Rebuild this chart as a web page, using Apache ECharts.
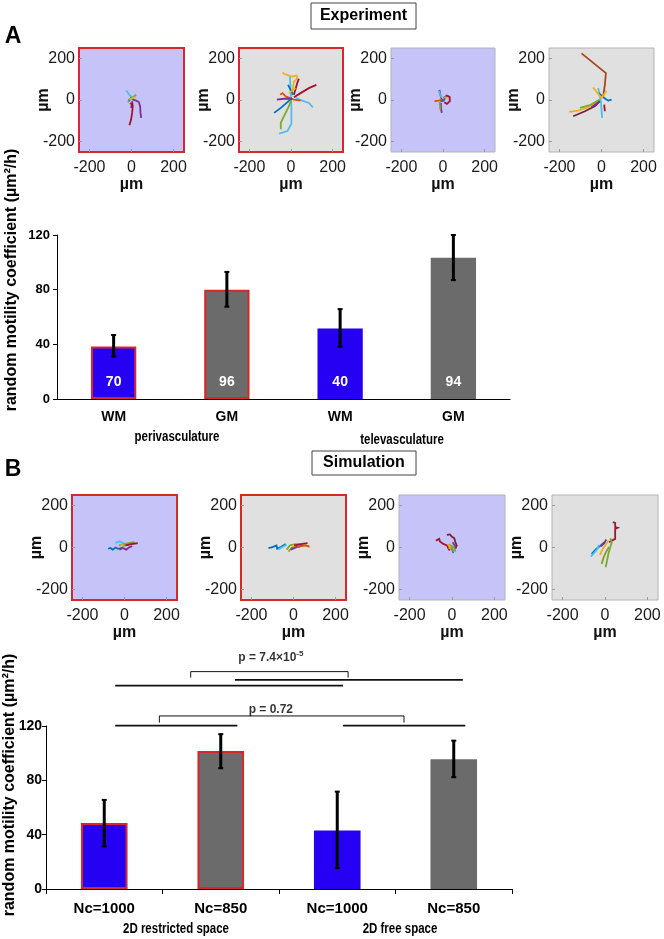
<!DOCTYPE html>
<html><head><meta charset="utf-8">
<script src="https://cdn.jsdelivr.net/npm/echarts@6/dist/echarts.min.js"></script>
<style>html,body{margin:0;padding:0;background:#fff}#c{width:664px;height:939px}</style>
</head><body><div id="c"></div><script>
// ---------------- DATA ----------------
// Panel A bar chart (Experiment)
const expCategories = ['WM', 'GM', 'WM', 'GM'];
const expGroups = ['perivasculature', 'televasculature'];
const expValues = [38.5, 80, 51.5, 103.4];
const expErrLow = [31, 67.5, 38.3, 87];
const expErrHigh = [46.8, 93, 65.8, 120];
const expCounts = ['70', '96', '40', '94'];

// Panel B bar chart (Simulation)
const simCategories = ['Nc=1000', 'Nc=850', 'Nc=1000', 'Nc=850'];
const simGroups = ['2D restricted space', '2D free space'];
const simValues = [48.5, 101.6, 43, 95.5];
const simErrLow = [31.3, 88.9, 15.4, 82.3];
const simErrHigh = [65.6, 114, 71.7, 109.2];

const barTicks = [0, 40, 80, 120];
const trackTicks = [-200, 0, 200];

// significance annotations (x in category units 0..4, y in value units)
const sigLines = [
  [[0.594, 149.6], [2.55, 149.6]],
  [[1.622, 153.8], [3.578, 153.8]],
  [[1.242, 155.5], [1.242, 159.9], [2.593, 159.9], [2.593, 155.5]],
  [[0.594, 120.2], [1.643, 120.2]],
  [[2.55, 120.2], [3.599, 120.2]],
  [[0.973, 122.4], [0.973, 127.3], [3.073, 127.3], [3.073, 122.4]]
];
const sigLabels = [[1.93, 169.8, 'p = 7.4×10{s|-5}'], [1.93, 131.8, 'p = 0.72']];

// trajectories (µm)
const expTracks1 = [
  [[-25,46],[-10,25],[3,10]],
  [[6,2],[22,-3],[35,-10],[41,-30],[43,-62],[46,-86]],
  [[3,-6],[6,-30],[3,-62],[-2,-94],[-10,-121]],
  [[-17,-10],[-2,6],[22,25]],
  [[-13,-3],[-2,10],[10,2]],
  [[-10,2],[6,10],[19,13]],
  [[-6,-14],[2,-22],[-2,-38]]
];
const expTracks2 = [
  [[-41,133],[-30,124],[6,113],[27,117],[30,102],[14,89],[6,41],[-2,10]],
  [[-5,113],[-2,41],[2,-38],[2,-114],[-17,-149],[-57,-162]],
  [[22,10],[54,-3],[86,-14],[105,-35]],
  [[14,13],[46,33],[86,57],[122,73]],
  [[14,25],[30,81],[38,102]],
  [[-81,-62],[-49,-38],[-17,-10],[6,10]],
  [[-14,73],[-2,49],[11,25]],
  [[-49,-141],[-49,-109],[-30,-70],[-10,-30],[2,2]],
  [[-52,25],[-41,33],[-25,17],[14,2],[46,-3]],
  [[-68,2],[-33,6],[6,5]],
  [[-10,33],[22,57]]
];
const expTracks3 = [
  [[-17,49],[-13,25],[-6,2],[0,-6]],
  [[3,10],[19,21],[32,14],[33,-6],[19,-19],[6,-11]],
  [[-10,-14],[-10,-38],[-6,-62]],
  [[-17,-10],[-14,-30],[-13,-46]],
  [[-21,44],[-13,25],[-5,10]],
  [[-13,-6],[3,-3],[14,17]],
  [[-41,-6],[-22,-3],[-6,0]],
  [[6,13],[22,10]]
];
const expTracks4 = [
  [[-95,224],[21,129],[16,73],[8,17]],
  [[-154,-57],[-111,-51],[-63,-35],[-16,-6]],
  [[-135,-78],[-79,-54],[-32,-30],[-8,-6]],
  [[-103,-38],[-56,-25],[-8,2]],
  [[-16,57],[-3,-6],[3,-86]],
  [[-13,33],[13,10],[32,-3],[48,2]],
  [[-40,60],[0,10],[24,44]],
  [[-48,-35],[-8,-6]],
  [[13,-22],[16,-54]]
];
const simTracks1 = [
  [[-78,-6],[-67,-2],[-56,-10],[-43,0],[-30,-6],[-11,-2]],
  [[-43,22],[-24,29],[-8,22],[5,16]],
  [[-27,10],[2,16],[24,22],[44,25]],
  [[-11,6],[21,16],[49,24]],
  [[5,10],[33,16],[63,21]],
  [[-24,-10],[-8,-2],[8,-10],[24,2],[37,6]],
  [[-19,10],[-3,13]]
];
const simTracks2 = [
  [[-119,-3],[-100,2],[-81,10],[-78,-6],[-60,2],[-49,10],[-37,16]],
  [[-71,-10],[-52,2],[-33,13]],
  [[-33,-10],[-17,10],[8,16],[43,14]],
  [[-24,-19],[-5,2],[14,10],[51,13]],
  [[-8,6],[27,13],[59,10],[78,0]],
  [[3,10],[35,16],[67,21]],
  [[-13,-10],[14,2],[46,10]],
  [[19,2],[51,10],[75,6]]
];
const simTracks3 = [
  [[-76,33],[-60,41],[-57,29],[-41,17],[-24,10],[-16,-6],[-10,-14]],
  [[-24,60],[-10,62],[0,51],[11,44],[16,25],[22,10],[16,-6]],
  [[-5,2],[3,-14],[6,-27]],
  [[-5,10],[11,-3],[16,-19]],
  [[-13,17],[0,-6],[8,-22]],
  [[-19,13],[-10,6],[-13,-6]],
  [[3,25],[13,10],[19,-3]]
];
const simTracks4 = [
  [[37,121],[48,117],[48,97],[59,94],[48,89],[48,41],[32,33],[19,25]],
  [[-63,-30],[-40,-6],[-16,13],[-3,25]],
  [[-67,-43],[-48,-22],[-35,-6],[-29,13]],
  [[3,-94],[10,-62],[16,-30],[25,2],[32,25],[25,44]],
  [[-16,-78],[-6,-46],[6,-19],[19,2]],
  [[-24,-35],[-10,-6],[3,13],[16,32]],
  [[-19,6],[-3,22],[6,38]]
];

// ---------------- STYLE ----------------
const M = {blue:'#0072BD', orange:'#D95319', gold:'#EDB120', purple:'#7E2F8E', green:'#77AC30', lblue:'#4DBEEE', dred:'#A2142F', olive:'#8C9A2E', brown:'#A8481C', maroon:'#7A1F3A'};
const expColors = [
  [M.lblue, M.purple, M.dred, M.green, M.blue, M.gold, M.dred],
  [M.gold, M.lblue, M.lblue, M.dred, M.dred, M.blue, M.blue, M.green, M.orange, M.purple, M.gold],
  [M.purple, M.dred, M.purple, M.green, M.lblue, M.blue, M.orange, M.gold],
  [M.brown, M.gold, M.maroon, M.green, M.lblue, M.blue, M.gold, M.purple, M.dred]
];
const simColors = [
  [M.blue, M.lblue, M.green, M.olive, M.dred, M.purple, M.gold],
  [M.blue, M.lblue, M.green, M.olive, M.gold, M.dred, M.purple, M.orange],
  [M.dred, M.maroon, M.blue, M.green, M.olive, M.gold, M.purple],
  [M.dred, M.blue, M.lblue, M.green, M.olive, M.gold, M.purple]
];
const expTracks = [expTracks1, expTracks2, expTracks3, expTracks4];
const simTracks = [simTracks1, simTracks2, simTracks3, simTracks4];

const BLUE_BG = '#c5c3f7', GRAY_BG = '#e0e0e0', RED = '#d9262b', FRAME = '#b4b4b4';
const BAR_BLUE = '#2600f2', BAR_GRAY = '#6b6b6b';
const ARIAL = "'Liberation Sans',Arial,sans-serif";

const expBoxes = [[79,48,105,104],[239,48,104,104],[391,48,104,104],[549,48,105,104]];
const simBoxes = [[72,495,105,105],[241,495,105,105],[399,495,106,105],[552,495,106,105]];
const bgs = [BLUE_BG, GRAY_BG, BLUE_BG, GRAY_BG];
const borders = [[RED,2],[RED,2],[FRAME,1],[FRAME,1]];

const grids = [], xAxes = [], yAxes = [], series = [];

function addTrackPlot(box, bg, border, tracks, colors) {
  const gi = grids.length;
  grids.push({left: box[0], top: box[1], width: box[2], height: box[3], show: true,
    backgroundColor: bg, borderColor: border[0], borderWidth: border[1]});
  const common = {gridIndex: gi, type: 'value', min: -250, max: 250,
    axisLine: {show: false, onZero: false}, splitLine: {show: false},
    axisTick: {show: true, inside: true, length: 3, customValues: trackTicks, lineStyle: {color: '#9a9a9a'}},
    axisLabel: {customValues: trackTicks, fontSize: 16, color: '#1a1a1a', fontFamily: ARIAL},
    nameLocation: 'middle', nameTextStyle: {fontSize: 16, fontWeight: 'bold', color: '#111', fontFamily: ARIAL}, name: 'µm'};
  xAxes.push(Object.assign({}, common, {axisLabel: Object.assign({}, common.axisLabel, {margin: 8}), nameGap: 24}));
  yAxes.push(Object.assign({}, common, {axisLabel: Object.assign({}, common.axisLabel, {margin: 4}), nameGap: 27, nameMoveOverlap: false}));
  series.push({type: 'lines', coordinateSystem: 'cartesian2d', xAxisIndex: gi, yAxisIndex: gi,
    polyline: true, silent: true, lineStyle: {width: 1.8, opacity: 1},
    data: tracks.map((t, j) => ({coords: t, lineStyle: {color: colors[j]}}))});
}
for (let i = 0; i < 4; i++) addTrackPlot(expBoxes[i], bgs[i], borders[i], expTracks[i], expColors[i]);

function errRender(params, api) {
  const x = api.value(0);
  const lo = api.coord([x, api.value(1)]);
  const hi = api.coord([x, api.value(2)]);
  const s = {stroke: '#000', lineWidth: 3};
  return {type: 'group', children: [
    {type: 'line', shape: {x1: lo[0], y1: lo[1], x2: hi[0], y2: hi[1]}, style: s},
    {type: 'line', shape: {x1: lo[0]-2.5, y1: lo[1], x2: lo[0]+2.5, y2: lo[1]}, style: {stroke:'#000', lineWidth: 2}},
    {type: 'line', shape: {x1: hi[0]-2.5, y1: hi[1], x2: hi[0]+2.5, y2: hi[1]}, style: {stroke:'#000', lineWidth: 2}}
  ]};
}

function addBarChart(pos, cats, vals, lo, hi, counts, catFont, tickFont, showXTicks) {
  const gi = grids.length;
  grids.push({left: pos.left, right: pos.right, top: pos.top, bottom: pos.bottom});
  xAxes.push({gridIndex: gi, type: 'category', data: cats,
    axisLine: {lineStyle: {color: '#000', width: 1}},
    axisTick: {show: showXTicks, length: 5, lineStyle: {color: '#000'}},
    axisLabel: {fontFamily: ARIAL, fontWeight: 'bold', fontSize: catFont, color: '#000', margin: pos.catMargin}});
  yAxes.push({gridIndex: gi, type: 'value', min: 0, max: 120, interval: 40,
    axisLine: {show: true, onZero: false, lineStyle: {color: '#000'}}, splitLine: {show: false},
    axisTick: {show: true, length: 4, lineStyle: {color: '#000'}},
    axisLabel: {fontFamily: ARIAL, fontWeight: 'bold', fontSize: tickFont, color: '#000', margin: pos.tickMargin}});
  series.push({type: 'bar', xAxisIndex: gi, yAxisIndex: gi, barWidth: '40%', silent: true,
    data: vals.map((v, i) => ({value: v, itemStyle: {
      color: i % 2 === 0 ? BAR_BLUE : BAR_GRAY,
      borderColor: i < 2 ? RED : 'transparent', borderWidth: i < 2 ? 2 : 0}})),
    label: counts ? {show: true, position: 'insideBottom', distance: 10, color: '#fff',
      fontFamily: ARIAL, fontWeight: 'bold', fontSize: 14,
      formatter: p => counts[p.dataIndex]} : {show: false}});
  series.push({type: 'custom', xAxisIndex: gi, yAxisIndex: gi, silent: true, z: 5,
    renderItem: errRender, data: vals.map((v, i) => [i, lo[i], hi[i]])});
  return gi;
}

addBarChart({left: 57, right: 154, top: 235, bottom: 540, catMargin: 11, tickMargin: 7},
  expCategories, expValues, expErrLow, expErrHigh, expCounts, 14, 13, false);

for (let i = 0; i < 4; i++) addTrackPlot(simBoxes[i], bgs[i], borders[i], simTracks[i], simColors[i]);

addBarChart({left: 46, right: 152, top: 726, bottom: 50, catMargin: 12, tickMargin: 4},
  simCategories, simValues, simErrLow, simErrHigh, null, 15, 14, true);

// overlay grid for significance brackets
const og = grids.length;
grids.push({left: 46, right: 152, top: 644.3, bottom: 50});
xAxes.push({gridIndex: og, type: 'value', min: 0, max: 4, show: false});
yAxes.push({gridIndex: og, type: 'value', min: 0, max: 180, show: false});
series.push({type: 'lines', coordinateSystem: 'cartesian2d', xAxisIndex: og, yAxisIndex: og,
  polyline: true, silent: true, lineStyle: {color: '#111', width: 1.3, opacity: 1},
  data: sigLines.map(c => ({coords: c, lineStyle: {width: c.length > 2 ? 1 : 1.6}}))});
series.push({type: 'scatter', xAxisIndex: og, yAxisIndex: og, symbolSize: 0, silent: true,
  data: sigLabels.map(d => ({value: [d[0], d[1]], name: d[2]})),
  label: {show: true, position: 'inside', formatter: p => p.name, color: '#000',
    fontFamily: ARIAL, fontWeight: 'bold', fontSize: 12,
    rich: {s: {fontFamily: ARIAL, fontWeight: 'bold', fontSize: 8, verticalAlign: 'top', padding: [0,0,8,0], color: '#000'}}}});

// ---------------- TEXT / GRAPHIC ----------------
function boxTitle(text, x, y, w, h) {
  return {type: 'group', children: [
    {type: 'rect', shape: {x: x, y: y, width: w, height: h}, style: {fill: '#fff', stroke: '#444', lineWidth: 1}},
    {type: 'text', x: x + w / 2, y: y + h / 2, style: {text: text, font: 'bold 16px ' + ARIAL, fill: '#000', align: 'center', verticalAlign: 'middle'}}
  ]};
}
function narrowText(text, x, y, size) {
  return {type: 'text', x: x, y: y, scaleX: 0.82, style: {text: text, font: 'bold ' + size + 'px ' + ARIAL, fill: '#000', align: 'center', verticalAlign: 'middle'}};
}
const graphic = [
  boxTitle('Experiment', 311, 3, 105, 26),
  boxTitle('Simulation', 312, 451, 104, 24),
  {type: 'text', x: 13, y: 37, style: {text: 'A', font: 'bold 23px ' + ARIAL, fill: '#000', align: 'center', verticalAlign: 'middle'}},
  {type: 'text', x: 13, y: 470, style: {text: 'B', font: 'bold 23px ' + ARIAL, fill: '#000', align: 'center', verticalAlign: 'middle'}},
  {type: 'text', x: 12, y: 280, rotation: Math.PI / 2, style: {text: 'random motility coefficient (µm²/h)', font: 'bold 16px ' + ARIAL, fill: '#000', align: 'center', verticalAlign: 'middle'}},
  {type: 'text', x: 10, y: 785, rotation: Math.PI / 2, style: {text: 'random motility coefficient (µm²/h)', font: 'bold 16px ' + ARIAL, fill: '#000', align: 'center', verticalAlign: 'middle'}},
  narrowText(expGroups[0], 177, 437, 14),
  narrowText(expGroups[1], 402, 440, 14),
  narrowText(simGroups[0], 176, 929, 14),
  narrowText(simGroups[1], 400, 929, 14)
];

const chart = echarts.init(document.getElementById('c'), null, {renderer: 'canvas'});
chart.setOption({animation: false, backgroundColor: '#fff', grid: grids, xAxis: xAxes, yAxis: yAxes, series: series, graphic: graphic});
</script></body></html>
